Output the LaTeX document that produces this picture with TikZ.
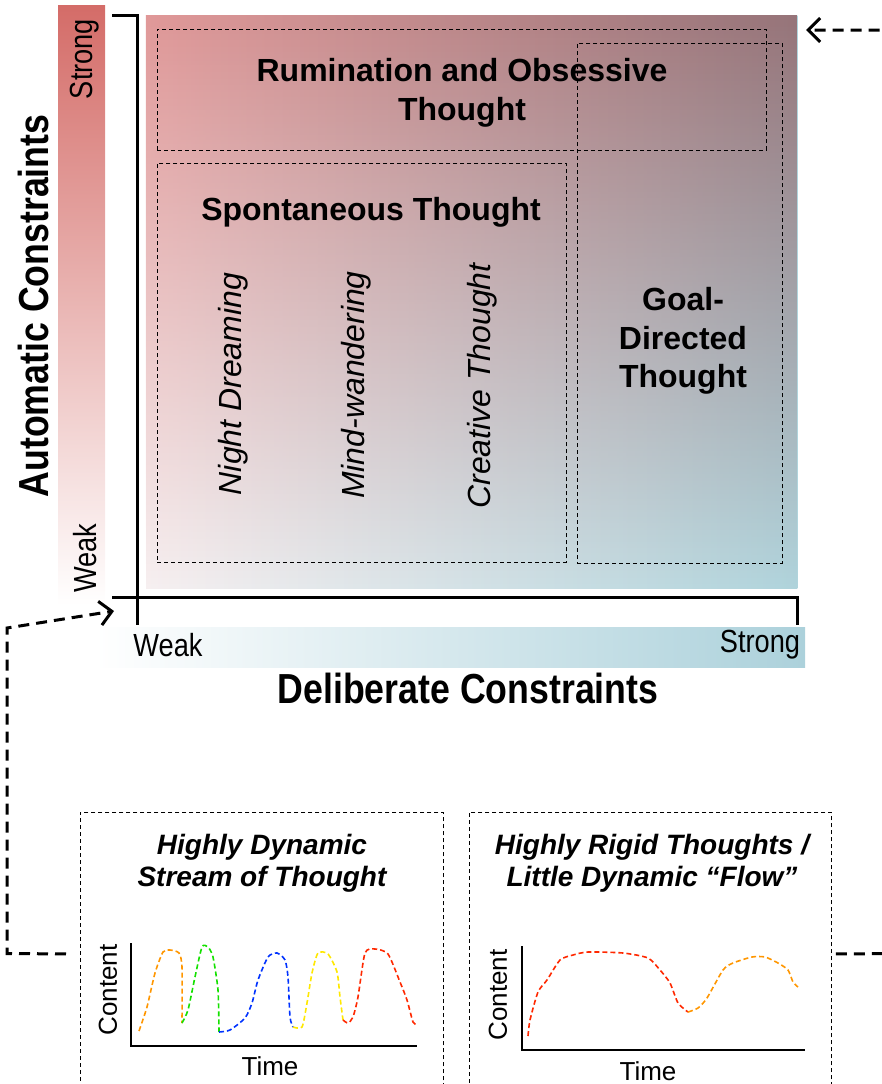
\documentclass[tikz,border=0pt]{standalone}
\usepackage{fontspec}
\setmainfont{Liberation Sans}
\newfontfamily\narrowsans[FakeStretch=0.85]{Liberation Sans}
\usetikzlibrary{arrows.meta,fadings,calc}

\definecolor{autored}{RGB}{212,108,104}
\definecolor{delibblue}{RGB}{172,209,219}
\definecolor{spacepink}{RGB}{224,152,152}
\definecolor{spacemauve}{RGB}{150,116,121}
\definecolor{spacewhite}{RGB}{247,240,241}
\definecolor{spaceblue}{RGB}{176,212,220}
\definecolor{streamorange}{RGB}{255,150,0}
\definecolor{streamgreen}{RGB}{20,225,0}
\definecolor{streamblue}{RGB}{0,50,255}
\definecolor{streamyellow}{RGB}{255,232,0}
\definecolor{streamred}{RGB}{255,40,0}

\tikzset{
  zonebox/.style={draw, line width=0.9pt, dash pattern=on 4pt off 3pt, inner sep=0pt},
  zonetitle/.style={font=\fontsize{32}{38.5}\selectfont\bfseries, align=center},
  modelabel/.style={font=\fontsize{32}{38}\selectfont\itshape, rotate=90},
  axistitle/.style={font=\narrowsans\fontsize{42}{48}\selectfont\bfseries},
  axislevel/.style={font=\narrowsans\fontsize{32}{36}\selectfont},
  axisline/.style={line width=3pt, line join=miter},
  panelbox/.style={draw, line width=0.9pt, dash pattern=on 4pt off 3pt, inner sep=0pt, anchor=north west},
  paneltitle/.style={font=\fontsize{28}{32}\selectfont\bfseries\itshape, align=center},
  plotlabel/.style={font=\fontsize{26}{30}\selectfont},
  plotaxis/.style={line width=2pt},
  trace/.style={line width=1.6pt, dash pattern=on 5pt off 3pt},
  linkline/.style={line width=3pt, dash pattern=on 11pt off 7pt, -{Straight Barb[length=12pt,width=24pt,line width=3pt]}}
}

\begin{document}
\begin{tikzpicture}[x=1pt,y=1pt]
  \useasboundingbox (0,0) rectangle (881,-1084);

  % thought space
  \node[inner sep=0pt, minimum width=651pt, minimum height=573pt, anchor=north west] (space) at (146,-15) {};
  \shade[left color=spacewhite, right color=spaceblue] (space.south west) rectangle (space.north east);
  \shade[left color=spacepink, right color=spacemauve, path fading=south] (space.south west) rectangle (space.north east);

  \node[zonebox, minimum width=609pt, minimum height=121pt, anchor=north west] (rumbox) at (157,-29) {};
  \node[zonebox, minimum width=205pt, minimum height=520pt, anchor=north west] (goalbox) at (577,-43) {};
  \node[zonebox, minimum width=409pt, minimum height=399pt, anchor=north west] (spontbox) at (157,-163) {};

  \node[zonetitle] (rumination) at (462,-93) {Rumination and Obsessive\\Thought};
  \node[zonetitle] (goal) at (683,-341) {Goal-\\Directed\\Thought};
  \node[zonetitle] (spontaneous) at (371,-212) {Spontaneous Thought};

  \node[modelabel] (dreaming) at (233,-384) {Night Dreaming};
  \node[modelabel] (wandering) at (356,-385) {Mind-wandering};
  \node[modelabel] (creative) at (482,-386) {Creative Thought};

  % axes
  \shade[top color=autored, bottom color=white] (58,-5) rectangle (105,-605);
  \shade[left color=white, right color=delibblue] (95,-627) rectangle (805,-667);

  \node[axislevel, rotate=90] (autostrong) at (85,-59) {Strong};
  \node[axislevel, rotate=90] (autoweak) at (85,-558) {Weak};
  \node[axistitle, rotate=90] (automatic) at (33,-306) {Automatic Constraints};

  \node[axislevel] (delibweak) at (168,-645) {Weak};
  \node[axislevel] (delibstrong) at (760,-645) {Strong};
  \node[axistitle] (deliberate) at (468,-688) {Deliberate Constraints};

  \coordinate (origin) at (137,-597);
  \draw[axisline] (112,-15) -- (137,-15) -- (137,-625);
  \draw[axisline] (112,-597) -- (797,-597) -- (797,-625);

  % dynamics panels
  \node[panelbox, minimum width=363pt, minimum height=283pt] (lbox) at (80,-812) {};
  \node[panelbox, minimum width=362pt, minimum height=283pt] (rbox) at (469,-812) {};

  \node[paneltitle] (dynamic) at (262,-863) {Highly Dynamic\\Stream of Thought};
  \node[paneltitle] (rigid) at (652,-863) {Highly Rigid Thoughts /\\Little Dynamic “Flow”};

  \draw[plotaxis] (131,-943) |- (417,-1046);
  \node[plotlabel, rotate=90] (lcontent) at (108,-990) {Content};
  \node[plotlabel] (ltime) at (270,-1066) {Time};

  \draw[plotaxis] (522,-946) |- (805,-1050);
  \node[plotlabel, rotate=90] (rcontent) at (498,-995) {Content};
  \node[plotlabel] (rtime) at (648,-1071) {Time};

  \draw[trace, streamorange] plot[smooth, tension=0.4] coordinates {(139,-1031) (147,-1007) (155,-973) (163,-952) (170,-950) (179,-953) (182,-967) (182,-1023)};
  \draw[trace, streamgreen] plot[smooth, tension=0.4] coordinates {(182,-1023) (188,-1010) (195,-977) (202,-947) (208,-947) (213,-957) (218,-990) (219,-1032)};
  \draw[trace, streamblue] plot[smooth, tension=0.4] coordinates {(219,-1032) (230,-1030) (245,-1018) (252,-1003) (258,-980) (268,-957) (277,-953) (285,-960) (288,-977) (290,-1017) (293,-1027)};
  \draw[trace, streamyellow] plot[smooth, tension=0.4] coordinates {(293,-1027) (302,-1027) (307,-1003) (312,-973) (318,-953) (328,-954) (337,-972) (340,-997) (343,-1020)};
  \draw[trace, streamred] plot[smooth, tension=0.4] coordinates {(343,-1020) (348,-1023) (353,-1017) (358,-997) (365,-953) (375,-949) (388,-954) (400,-982) (407,-1000) (413,-1022) (417,-1025)};

  \draw[trace, streamred] plot[smooth, tension=0.4] coordinates {(528,-1036) (530,-1020) (538,-992) (547,-980) (560,-960) (573,-955) (588,-952) (623,-953) (648,-958) (660,-970) (670,-983) (678,-1003) (688,-1012)};
  \draw[trace, streamorange] plot[smooth, tension=0.4] coordinates {(688,-1012) (698,-1008) (707,-998) (723,-970) (733,-963) (752,-957) (765,-957) (778,-963) (788,-970) (793,-982) (798,-987)};

  % links
  \coordinate (ltip) at (114,-611);
  \coordinate (rtip) at (806,-30);
  \draw[linkline] ([xshift=-14pt]lbox.west) -- (7,-953.5) -- (7,-628) -- (ltip);
  \draw[linkline] ([xshift=4pt]rbox.east) -- (900,-953.5) -- (900,-30) -- (rtip);
\end{tikzpicture}
\end{document}
